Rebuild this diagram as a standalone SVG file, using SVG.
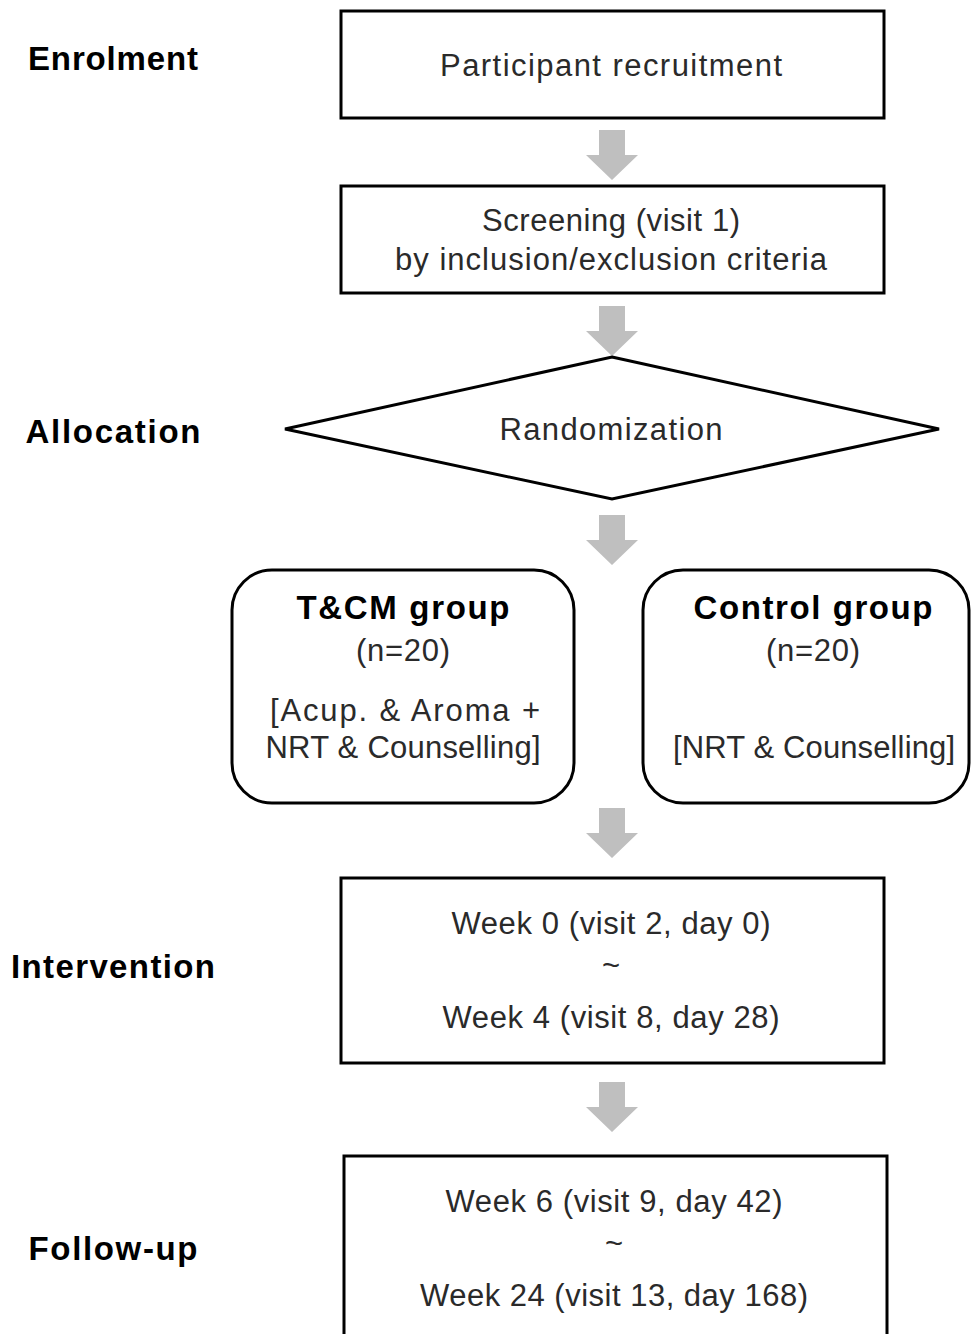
<svg xmlns="http://www.w3.org/2000/svg" width="971" height="1334" viewBox="0 0 971 1334">
<style>
.box{fill:#fff;stroke:#000;stroke-width:3}
.t{font-family:"Liberation Sans",Arial,sans-serif;font-size:31px;fill:#2a2a2a;text-anchor:middle}
.b{font-family:"Liberation Sans",Arial,sans-serif;font-size:33px;font-weight:bold;fill:#000;text-anchor:middle}
.lab{font-family:"Liberation Sans",Arial,sans-serif;font-size:33px;font-weight:bold;fill:#000;text-anchor:middle}
.arr{fill:#bfbfbf}
</style>
<defs>
<path id="ba" d="M-13,0 H13 V25 H26 L0,50 L-26,25 H-13 Z"/>
</defs>
<rect width="971" height="1334" fill="#fff"/>
<g id="labels">
<text class="lab" x="113" y="70" textLength="170">Enrolment</text>
<text class="lab" x="113" y="443" textLength="175">Allocation</text>
<text class="lab" x="113" y="978" textLength="204">Intervention</text>
<text class="lab" x="113" y="1260" textLength="169">Follow-up</text>
</g>
<g id="connectors">
<use href="#ba" class="arr" x="612" y="130"/>
<use href="#ba" class="arr" x="612" y="306"/>
<use href="#ba" class="arr" x="612" y="515"/>
<use href="#ba" class="arr" x="612" y="808"/>
<use href="#ba" class="arr" x="612" y="1082"/>
</g>
<g id="recruitment">
<rect class="box" x="341" y="11" width="543" height="107"/>
<text class="t" x="611" y="76" textLength="342">Participant recruitment</text>
</g>
<g id="screening">
<rect class="box" x="341" y="186" width="543" height="107"/>
<text class="t" x="611" y="231" textLength="258">Screening (visit 1)</text>
<text class="t" x="611" y="270" textLength="432">by inclusion/exclusion  criteria</text>
</g>
<g id="randomization">
<polygon class="box" points="612,357 939,429 612,499 285,429"/>
<text class="t" x="611" y="440" textLength="223">Randomization</text>
</g>
<g id="tcm">
<rect class="box" x="232" y="570" width="342" height="233" rx="40"/>
<text class="b" x="403" y="619" textLength="213">T&amp;CM group</text>
<text class="t" x="403" y="661" textLength="94">(n=20)</text>
<text class="t" x="405" y="721" textLength="270">[Acup. &amp; Aroma +</text>
<text class="t" x="403" y="758" textLength="275">NRT &amp; Counselling]</text>
</g>
<g id="control">
<rect class="box" x="643" y="570" width="326" height="233" rx="40"/>
<text class="b" x="813" y="619" textLength="239">Control group</text>
<text class="t" x="813" y="661" textLength="94">(n=20)</text>
<text class="t" x="814" y="758" textLength="282">[NRT &amp; Counselling]</text>
</g>
<g id="intervention">
<rect class="box" x="341" y="878" width="543" height="185"/>
<text class="t" x="611" y="934" textLength="319">Week 0 (visit 2, day 0)</text>
<text class="t" x="611" y="976">~</text>
<text class="t" x="611" y="1028" textLength="337">Week 4 (visit 8, day 28)</text>
</g>
<g id="followup">
<rect class="box" x="344" y="1156" width="543" height="190"/>
<text class="t" x="614" y="1212" textLength="337">Week 6 (visit 9, day 42)</text>
<text class="t" x="614" y="1254">~</text>
<text class="t" x="614" y="1306" textLength="388">Week 24 (visit 13, day 168)</text>
</g>
</svg>
